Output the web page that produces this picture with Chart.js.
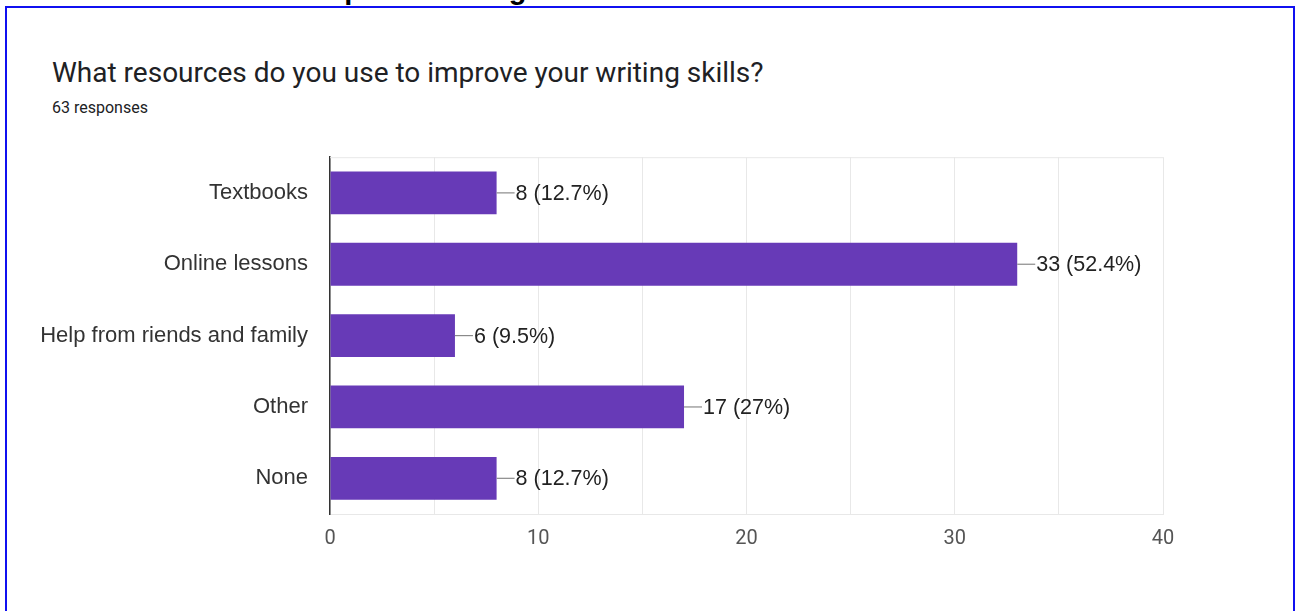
<!DOCTYPE html>
<html>
<head>
<meta charset="utf-8">
<script src="https://cdn.jsdelivr.net/npm/chart.js@4"></script>
<style>
  html, body { margin: 0; padding: 0; background: #fff; width: 1301px; height: 611px; overflow: hidden; }
  .page-head { position: absolute; left: 43px; top: -25.5px; font: bold 29px "Liberation Sans", Arial, sans-serif; line-height: 29px; color: #000; white-space: nowrap; }
  .frame { position: absolute; left: 5px; top: 6px; width: 1286px; height: 700px; border: 2px solid #1010f0; }
  .title { position: absolute; left: 52px; top: 59px; font: 28px Roboto, sans-serif; line-height: 28px; color: #202124; white-space: nowrap; }
  .sub { position: absolute; left: 52px; top: 99.5px; font: 16px Roboto, sans-serif; line-height: 16px; color: #202124; }
  .chart-box { position: absolute; left: 0; top: 122px; width: 1301px; height: 489px; }
</style>
</head>
<body>
<div class="page-head">Resources used to improve writing</div>
<div class="frame"></div>
<div class="title">What resources do you use to improve your writing skills?</div>
<div class="sub">63 responses</div>
<div class="chart-box"><canvas id="resChart"></canvas></div>

<script>
// survey answers
const categories = ['Textbooks', 'Online lessons', 'Help from riends and family', 'Other', 'None'];
const counts = [8, 33, 6, 17, 8];
const totalResponses = 63;
const xTicks = [0, 10, 20, 30, 40];

const barColor = '#673ab7';

// "8 (12.7%)" style label, percentage rounded to one decimal
const valueLabel = (n) => {
    let pct = (n / totalResponses * 100).toFixed(1);
    if (pct.endsWith('.0')) pct = pct.slice(0, -2);
    return `${n} (${pct}%)`;
};

// light line along the top of the plot area
const plotFrame = {
    id: 'plotFrame',
    beforeDatasetsDraw(chart) {
        const { ctx, chartArea: a } = chart;
        ctx.save();
        ctx.strokeStyle = '#e8e8e8';
        ctx.lineWidth = 1;
        ctx.beginPath();
        ctx.moveTo(a.left, a.top + 0.5);
        ctx.lineTo(a.right, a.top + 0.5);
        ctx.stroke();
        ctx.restore();
    }
};

// short leader line + count/percent after each bar
const barLabels = {
    id: 'barLabels',
    afterDatasetsDraw(chart) {
        const { ctx } = chart;
        const meta = chart.getDatasetMeta(0);
        ctx.save();
        ctx.font = '21.5px "Liberation Sans", Arial, sans-serif';
        ctx.textBaseline = 'middle';
        ctx.textAlign = 'left';
        meta.data.forEach((bar, i) => {
            const x = bar.x;
            const y = bar.y;
            ctx.strokeStyle = '#8a8a8a';
            ctx.lineWidth = 1.2;
            ctx.beginPath();
            ctx.moveTo(x, y);
            ctx.lineTo(x + 18, y);
            ctx.stroke();
            ctx.fillStyle = '#222';
            ctx.fillText(valueLabel(counts[i]), x + 19, y + 1);
        });
        ctx.restore();
    }
};

new Chart(document.getElementById('resChart'), {
    type: 'bar',
    data: {
        labels: categories,
        datasets: [{
            data: counts,
            backgroundColor: barColor,
            borderWidth: 0,
            categoryPercentage: 1,
            barPercentage: 0.6
        }]
    },
    plugins: [plotFrame, barLabels],
    options: {
        indexAxis: 'y',
        responsive: true,
        maintainAspectRatio: false,
        animation: false,
        layout: { padding: { top: 2, right: 138, left: 0, bottom: 0 } },
        plugins: {
            legend: { display: false },
            tooltip: { enabled: false }
        },
        scales: {
            x: {
                min: xTicks[0],
                max: xTicks[xTicks.length - 1],
                afterFit: (s) => { s.height = 97; },
                ticks: {
                    stepSize: 5,
                    padding: 13,
                    color: '#555',
                    font: { family: 'Roboto', size: 20 },
                    callback: (v) => xTicks.includes(v) ? v : ''
                },
                grid: { color: '#e8e8e8', lineWidth: 1, drawTicks: false },
                border: { display: true, color: '#e8e8e8' }
            },
            y: {
                afterFit: (s) => { s.width = 330; },
                ticks: {
                    padding: 22,
                    color: '#333',
                    font: { family: '"Liberation Sans", Arial', size: 22 }
                },
                grid: { display: false, drawTicks: false },
                border: { display: true, color: '#333', width: 1.5 }
            }
        }
    }
});
</script>
</body>
</html>
